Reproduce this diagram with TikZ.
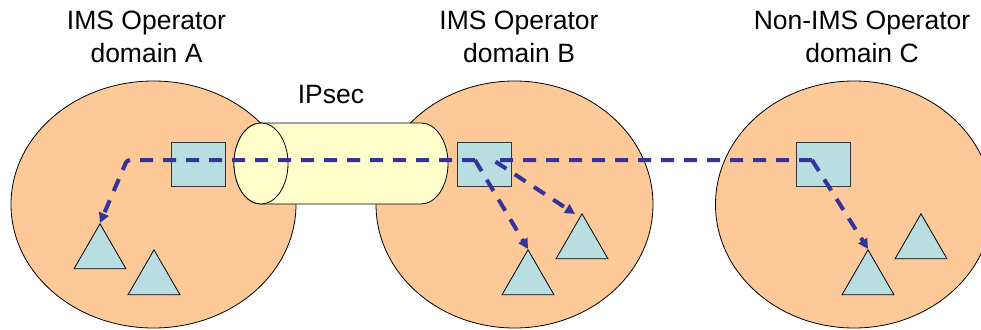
\documentclass[tikz,border=0pt]{standalone}
\usepackage{fontspec}
\setmainfont{Liberation Sans}
\usetikzlibrary{shapes.geometric,arrows.meta}
\definecolor{peach}{RGB}{253,201,153}
\definecolor{boxc}{RGB}{184,222,226}
\definecolor{tubec}{RGB}{255,255,204}
\definecolor{flowc}{RGB}{51,51,153}
\begin{document}
\begin{tikzpicture}[x=1pt,y=-1pt,
  opdomain/.style={ellipse,draw=black,line width=0.8pt,fill=peach,inner sep=0},
  nebox/.style={rectangle,draw=black!80,line width=0.8pt,fill=boxc,minimum width=54pt,minimum height=44pt,inner sep=0},
  termtri/.style={regular polygon,regular polygon sides=3,draw=black,line width=0.8pt,fill=boxc,minimum size=60pt,inner sep=0,anchor=corner 1},
  lbl/.style={font=\fontsize{26.5}{33}\selectfont,align=center,inner sep=0,anchor=north},
  flowline/.style={draw=flowc,line width=4pt,dash pattern=on 13pt off 10pt,-{Triangle[length=10pt,width=10pt]}}]
\useasboundingbox (0,0) rectangle (981,329);
% domains
\node[opdomain,minimum width=285pt,minimum height=247pt] (domA) at (153.5,204.5) {};
\node[opdomain,minimum width=277pt,minimum height=247pt] (domB) at (514.5,204.5) {};
\node[opdomain,minimum width=277pt,minimum height=247pt] (domC) at (854,204.5) {};
% IPsec tunnel
\path[draw=black,line width=0.8pt,fill=tubec] (261,123) -- (421,123)
  arc[start angle=-90,end angle=90,x radius=27,y radius=40.5] -- (261,204)
  arc[start angle=90,end angle=270,x radius=27,y radius=40.5] -- cycle;
\path[draw=black,line width=0.8pt,fill=tubec] (261,163.5) ellipse [x radius=27,y radius=40.5];
% network elements
\node[nebox] (gwA) at (198,164) {};
\node[nebox] (gwB) at (484,164) {};
\node[nebox] (gwC) at (823,164) {};
% terminals
\node[termtri] (a1) at (100,223) {};
\node[termtri] (a2) at (154,249) {};
\node[termtri] (b1) at (528,249) {};
\node[termtri] (b2) at (582,213) {};
\node[termtri] (c1) at (868,249) {};
\node[termtri] (c2) at (921,213) {};
% junction coordinates
\coordinate (pB) at ([xshift=-9pt,yshift=4pt]gwB.center);
\coordinate (pC) at ([xshift=-11pt,yshift=4pt]gwC.center);
\coordinate (jA) at (127,160);
\coordinate (jB) at (493,160);
% flows
\draw[flowline,rounded corners=3pt] (pB) -- (jA) -- (a1.corner 1);
\draw[flowline] (pB) -- (b1.corner 1);
\draw[flowline] (pC) -- (jB) -- ([xshift=-7pt,yshift=-1pt]b2.corner 1);
\draw[flowline] (pC) -- (c1.corner 1);
% labels
\node[lbl] (tA) at (146.5,11) {IMS Operator\\domain A};
\node[lbl] (tB) at (519,11) {IMS Operator\\domain B};
\node[lbl] (tC) at (862,11) {Non-IMS Operator\\domain C};
\node[font=\fontsize{26.5}{33}\selectfont,inner sep=0,anchor=base] (ipsec) at (331,103) {IPsec};
\end{tikzpicture}
\end{document}
